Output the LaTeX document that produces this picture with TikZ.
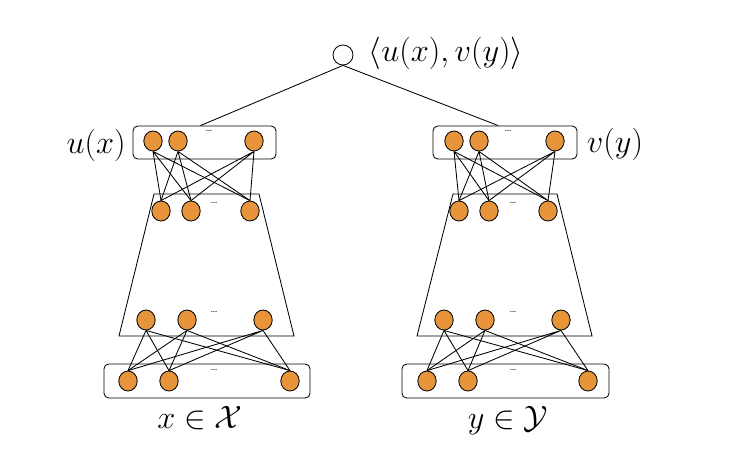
\documentclass[tikz,border=0pt]{standalone}
\usetikzlibrary{shapes.geometric}
\definecolor{naranja}{RGB}{232,148,58}

\begin{document}
\begin{tikzpicture}[
    x=0.025cm,
    y=-0.025cm,
    line width=0.6pt,
    neurona/.style={
        ellipse,
        draw,
        fill=naranja,
        minimum width=0.46cm,
        minimum height=0.5cm,
        inner sep=0pt
    },
    caja/.style={
        rectangle,
        draw,
        rounded corners=1.2mm,
        inner sep=0pt
    },
    puntos/.style={
        font=\scriptsize,
        inner sep=0pt
    },
    etiqueta/.style={
        font=\huge,
        scale=1.11,
        inner sep=0pt
    }
]

\useasboundingbox (0,0) rectangle (747,463);

% Producto interno
\node[circle, draw, minimum size=0.5cm, inner sep=0pt] (prod) at (343,55) {};
\node[etiqueta] (lprod) at (446,53) {$\langle u(x), v(y)\rangle$};

% Red izquierda: cajas
\node[caja, minimum width=3.575cm, minimum height=0.825cm] (cajaus) at (204.5,142.5) {};
\node[caja, minimum width=5.15cm, minimum height=0.85cm] (cajaue) at (207,381) {};
\draw (154,194) -- (259,194) -- (294,336) -- (119,336) -- cycle;

% Red izquierda: neuronas
\node[neurona] (us1) at (153,141) {};
\node[neurona] (us2) at (178,141) {};
\node[neurona] (us3) at (254,141) {};
\node[neurona] (ua1) at (161,211) {};
\node[neurona] (ua2) at (191,211) {};
\node[neurona] (ua3) at (250,211) {};
\node[neurona] (ub1) at (146,320) {};
\node[neurona] (ub2) at (187,320) {};
\node[neurona] (ub3) at (263,320) {};
\node[neurona] (ue1) at (128,381) {};
\node[neurona] (ue2) at (169,381) {};
\node[neurona] (ue3) at (290,381) {};
\node[puntos] (pus) at (209,131) {\dots};
\node[puntos] (pua) at (214,203) {\dots};
\node[puntos] (pub) at (214,312) {\dots};
\node[puntos] (pue) at (214,370) {\dots};

% Red izquierda: conexiones
\draw (us1.south) -- (ua1.north) (us1.south) -- (ua2.north) (us1.south) -- (ua3.north);
\draw (us2.south) -- (ua1.north) (us2.south) -- (ua2.north) (us2.south) -- (ua3.north);
\draw (us3.south) -- (ua1.north) (us3.south) -- (ua2.north) (us3.south) -- (ua3.north);
\draw (ub1.south) -- (ue1.north) (ub1.south) -- (ue2.north) (ub1.south) -- (ue3.north);
\draw (ub2.south) -- (ue1.north) (ub2.south) -- (ue2.north) (ub2.south) -- (ue3.north);
\draw (ub3.south) -- (ue1.north) (ub3.south) -- (ue2.north) (ub3.south) -- (ue3.north);

% Red derecha: cajas
\node[caja, minimum width=3.6cm, minimum height=0.825cm] (cajavs) at (505,142.5) {};
\node[caja, minimum width=5.175cm, minimum height=0.85cm] (cajave) at (505.5,381) {};
\draw (453,194) -- (557,194) -- (592,336) -- (417,336) -- cycle;

% Red derecha: neuronas
\node[neurona] (vs1) at (454,141) {};
\node[neurona] (vs2) at (479,141) {};
\node[neurona] (vs3) at (555,141) {};
\node[neurona] (va1) at (459,211) {};
\node[neurona] (va2) at (489,211) {};
\node[neurona] (va3) at (548,211) {};
\node[neurona] (vb1) at (444,320) {};
\node[neurona] (vb2) at (485,320) {};
\node[neurona] (vb3) at (561,320) {};
\node[neurona] (ve1) at (427,381) {};
\node[neurona] (ve2) at (468,381) {};
\node[neurona] (ve3) at (588,381) {};
\node[puntos] (pvs) at (508,131) {\dots};
\node[puntos] (pva) at (513,203) {\dots};
\node[puntos] (pvb) at (513,312) {\dots};
\node[puntos] (pve) at (513,370) {\dots};

% Red derecha: conexiones
\draw (vs1.south) -- (va1.north) (vs1.south) -- (va2.north) (vs1.south) -- (va3.north);
\draw (vs2.south) -- (va1.north) (vs2.south) -- (va2.north) (vs2.south) -- (va3.north);
\draw (vs3.south) -- (va1.north) (vs3.south) -- (va2.north) (vs3.south) -- (va3.north);
\draw (vb1.south) -- (ve1.north) (vb1.south) -- (ve2.north) (vb1.south) -- (ve3.north);
\draw (vb2.south) -- (ve1.north) (vb2.south) -- (ve2.north) (vb2.south) -- (ve3.north);
\draw (vb3.south) -- (ve1.north) (vb3.south) -- (ve2.north) (vb3.south) -- (ve3.north);

% Etiquetas
\node[etiqueta] (lu) at (96,145) {$u(x)$};
\node[etiqueta] (lv) at (615,144) {$v(y)$};
\node[etiqueta, anchor=base] (lx) at (200,428) {$x \in \mathcal{X}$};
\node[etiqueta, anchor=base] (ly) at (508,428) {$y \in \mathcal{Y}$};

% Conectores al producto
\draw (prod.south) -- ([xshift=-1mm]cajaus.north);
\draw (prod.south) -- ([xshift=-1.7mm]cajavs.north);

\end{tikzpicture}
\end{document}
